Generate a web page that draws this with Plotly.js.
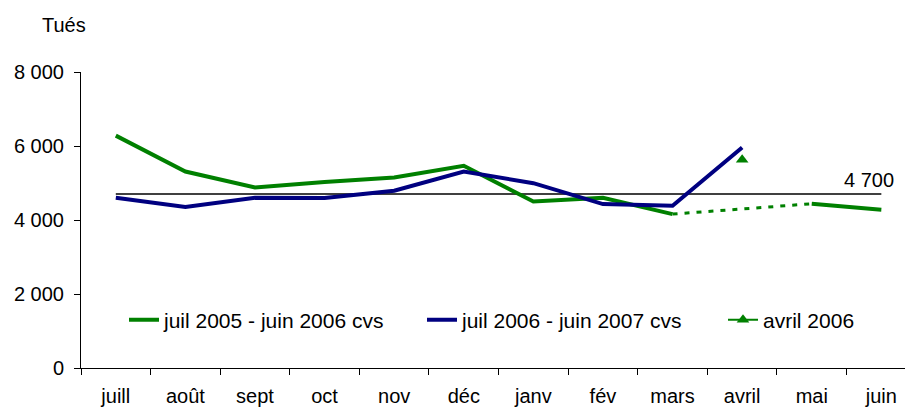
<!DOCTYPE html>
<html><head><meta charset="utf-8">
<script src="https://cdn.plot.ly/plotly-3.0.1.min.js"></script>
<style>body{margin:0;padding:0;background:#fff}#chart{width:905px;height:409px}</style>
</head><body><div id="chart"></div>
<script>
const months = ['juill','août','sept','oct','nov','déc','janv','fév','mars','avril','mai','juin'];
const serie2005 = [6280, 5310, 4880, 5030, 5150, 5465, 4500, 4600, 4160, null, 4438, 4276];
const gapX = ['mars','mai'];
const gapY = [4160, 4438];
const serie2006 = [4600, 4350, 4600, 4595, 4790, 5310, 4995, 4430, 4385, 5960];
const avril2006X = ['avril'];
const avril2006Y = [5630];
const refX = ['juill','juin'];
const refY = [4700, 4700];
const yTicks = [0, 2000, 4000, 6000, 8000];
const yTickText = ['0','2 000','4 000','6 000','8 000'];

const green = '#008000', navy = '#000080';
const font = {family:'"Liberation Sans", Arial, sans-serif', size:20, color:'#000'};
const legFont = {family:'"Liberation Sans", Arial, sans-serif', size:21, color:'#000'};

const traces = [
  {x: refX, y: refY, mode:'lines', line:{color:'#000', width:1.5}, showlegend:false, hoverinfo:'skip'},
  {x: months, y: serie2005, mode:'lines', name:'juil 2005 - juin 2006 cvs', line:{color:green, width:4}, connectgaps:false, legend:'legend'},
  {x: gapX, y: gapY, mode:'lines', line:{color:green, width:3, dash:'5px,7px'}, showlegend:false},
  {x: months.slice(0, serie2006.length), y: serie2006, mode:'lines', name:'juil 2006 - juin 2007 cvs', line:{color:navy, width:4}, legend:'legend'},
  {x: avril2006X, y: avril2006Y, mode:'lines+markers', name:'avril 2006', line:{color:green, width:2}, marker:{symbol:'triangle-up', size:11, color:green}, legend:'legend2'}
];

const legBase = {orientation:'h', y:0.162, xanchor:'left', yanchor:'middle', bgcolor:'rgba(0,0,0,0)',
                 entrywidth:253, entrywidthmode:'pixels', font:legFont, tracegroupgap:0, itemgap:0};

const layout = {
  width:905, height:409,
  margin:{l:81, r:0, t:72, b:41},
  paper_bgcolor:'#fff', plot_bgcolor:'#fff',
  font: font,
  showlegend:true,
  legend: Object.assign({}, legBase, {x:(124-81)/824}),
  legend2: Object.assign({}, legBase, {x:(723-81)/824, entrywidth:120}),
  xaxis:{type:'category', categoryorder:'array', categoryarray:months, range:[-0.5, 11.34],
         showline:true, linecolor:'#000', linewidth:1, ticks:'outside', ticklen:6, tickcolor:'#000',
         tickson:'boundaries', showgrid:false, zeroline:false, tickfont:font, ticklabelstandoff:10, fixedrange:true},
  yaxis:{range:[0,8000], tickvals:yTicks, ticktext:yTickText, showline:true, linecolor:'#000', linewidth:1,
         ticks:'outside', ticklen:6, tickcolor:'#000', showgrid:false, zeroline:false, tickfont:font, ticklabelstandoff:6},
  annotations:[
    {text:'Tués', xref:'paper', yref:'paper', x:(40-81)/824, y:(368-25)/296, xanchor:'left', yanchor:'middle', showarrow:false, font:font},
    {text:'4 700', xref:'x', yref:'y', x:'juin', y:4700, xanchor:'center', yanchor:'bottom', xshift:-12, yshift:1, showarrow:false, font:font}
  ]
};
Plotly.newPlot('chart', traces, layout, {displayModeBar:false, staticPlot:true});
</script></body></html>
